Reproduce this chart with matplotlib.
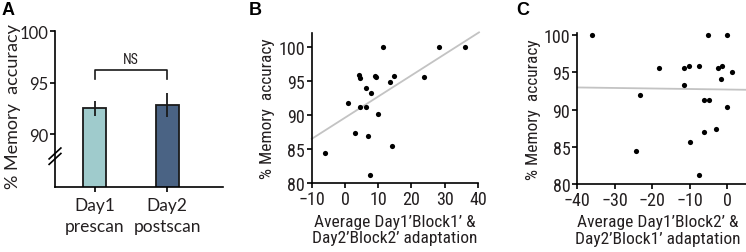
import matplotlib
matplotlib.use("Agg")
import matplotlib.pyplot as plt
from matplotlib import font_manager
import numpy as np

TTF = font_manager.fontManager.ttflist
names = {f.name for f in TTF}
NARROW_KW = None
for cand in ['Liberation Sans Narrow', 'Roboto Condensed', 'Open Sans Condensed']:
    if cand in names:
        NARROW_KW = dict(family=cand)
        break
if NARROW_KW is None:
    if any(f.name == 'DejaVu Sans' and f.stretch in ('condensed', 'semi-condensed')
           for f in TTF):
        NARROW_KW = dict(family='DejaVu Sans', stretch='condensed')
if NARROW_KW is None:
    NARROW_KW = dict(family='Lato')
    FS, FL = 11.5, 11.5
else:
    FS, FL = 13, 12.5

plt.rcParams['font.family'] = ['Lato', 'DejaVu Sans']
TXT = '#231f20'

# Panel A data
bar_labels = ['Day1\nprescan', 'Day2\npostscan']
bar_means = [92.5, 92.85]
bar_err_lo = [0.75, 1.15]
bar_err_hi = [0.75, 1.15]
bar_colors = ['#9fcbcc', '#4a6384']

# Panel B data
b_x = [-6.0, 0.9, 2.9, 4.3, 4.5, 4.5, 6.2, 6.4, 6.9, 7.4, 7.8, 9.1, 9.2, 9.9, 11.3,
       13.5, 14.1, 14.7, 23.9, 28.3, 36.1]
b_y = [84.4, 91.8, 87.3, 95.8, 95.4, 91.2, 91.1, 94.0, 86.9, 81.2, 93.2, 95.7, 95.5,
       90.1, 100.0, 94.9, 85.5, 95.7, 95.5, 100.0, 100.0]
b_fit = (0.31, 89.6)  # slope, intercept

# Panel C data
c_x = [-36.0, -23.4, -24.4, -18.1, -11.6, -10.1, -11.5, -10.0, -7.6, -7.6, -6.1,
       -6.3, -4.9, -5.1, -3.1, -2.4, -1.4, -1.7, 0.0, 0.0, 1.3]
c_y = [100.0, 92.0, 84.5, 95.6, 95.6, 95.8, 93.3, 85.6, 95.8, 81.3, 87.0,
       91.3, 91.3, 100.0, 87.4, 95.5, 95.8, 94.1, 100.0, 90.3, 95.0]
c_fit = (-0.0069, 92.68)

W, H = 746, 253
fig = plt.figure(figsize=(W / 100, H / 100), dpi=100)


def ax_px(l, r, t, b):
    return fig.add_axes([l / W, (H - b) / H, (r - l) / W, (b - t) / H])


def style(ax, fs, kw):
    for s in ['top', 'right']:
        ax.spines[s].set_visible(False)
    for s in ['left', 'bottom']:
        ax.spines[s].set_linewidth(1.2)
        ax.spines[s].set_color('black')
    ax.tick_params(direction='out', length=3.5, width=1.2, labelsize=fs,
                   labelcolor=TXT, pad=1.5)
    for t in ax.get_xticklabels() + ax.get_yticklabels():
        t.set_family(kw['family'])
        if 'stretch' in kw:
            t.set_stretch(kw['stretch'])


# ---- A
axA = ax_px(55, 223, 32, 188)
pos = np.arange(len(bar_means))
axA.bar(pos, bar_means, width=0.32, color=bar_colors, edgecolor='#1a1a1a',
        linewidth=1.3, bottom=0, zorder=2)
axA.errorbar(pos, bar_means, yerr=[bar_err_lo, bar_err_hi], fmt='none',
             ecolor='#1a1a1a', elinewidth=1.3, capsize=0, zorder=3)
axA.set_xlim(-0.55, 1.77)
axA.set_ylim(84.88, 100)
axA.set_yticks([90, 95, 100])
axA.set_xticks(pos)
axA.set_xticklabels(bar_labels, linespacing=1.35)
style(axA, 12, dict(family='Lato'))
axA.tick_params(axis='x', pad=4, labelsize=12.5)
axA.set_ylabel('% Memory  accuracy', fontsize=13, color=TXT)
axA.yaxis.set_label_coords(-0.2, 0.52)
# NS bracket
axA.plot([0, 0, 1, 1], [95.3, 96.25, 96.25, 95.3], color='#1a1a1a', lw=1.2)
axA.text(0.5, 96.6, 'NS', ha='center', va='bottom', fontsize=10,
         color=TXT, **NARROW_KW)
# axis break marks
for dy in [0.0, 0.035]:
    axA.plot([-0.035, 0.035], [0.145 + dy, 0.215 + dy], transform=axA.transAxes,
             color='black', lw=1.2, clip_on=False)

# ---- B
axB = ax_px(311.7, 478, 34, 184.3)
axB.scatter(b_x, b_y, s=14, color='black', zorder=3, linewidths=0, clip_on=False)
xs = np.array([-10, 40.3])
axB.plot(xs, b_fit[0] * xs + b_fit[1], color='#c3c3c3', lw=1.3, zorder=2,
         clip_on=False)
axB.set_xlim(-10, 40)
axB.set_ylim(80, 102)
axB.set_xticks([-10, 0, 10, 20, 30, 40])
axB.set_xticklabels(['\u221210', '0', '10', '20', '30', '40'])
axB.set_yticks([80, 85, 90, 95, 100])
style(axB, FS, NARROW_KW)
axB.set_ylabel('% Memory  accuracy', fontsize=FL, color=TXT, labelpad=2,
               **NARROW_KW)
axB.set_xlabel('Average Day1\u2019Block1\u2019 &\nDay2\u2019Block2\u2019 adaptation',
               fontsize=FL, color=TXT, labelpad=4, linespacing=1.1, **NARROW_KW)

# ---- C
axC = ax_px(577.3, 746, 34.3, 185.3)
axC.scatter(c_x, c_y, s=14, color='black', zorder=3, linewidths=0, clip_on=False)
xs = np.array([-40, 5])
axC.plot(xs, c_fit[0] * xs + c_fit[1], color='#c3c3c3', lw=1.3, zorder=2)
axC.set_xlim(-40, 5)
axC.set_ylim(80, 100.2)
axC.set_xticks([-40, -30, -20, -10, 0])
axC.set_xticklabels(['\u221240', '\u221230', '\u221220', '\u221210', '0'])
axC.set_yticks([80, 85, 90, 95, 100])
style(axC, FS, NARROW_KW)
axC.set_ylabel('% Memory  accuracy', fontsize=FL, color=TXT, labelpad=2,
               **NARROW_KW)
axC.set_xlabel('Average Day1\u2019Block2\u2019 &\nDay2\u2019Block1\u2019 adaptation',
               fontsize=FL, color=TXT, labelpad=4, linespacing=1.1, **NARROW_KW)
axC.xaxis.set_label_coords(0.475, -0.2)
axC.xaxis.label.set_va('top')

# panel letters
for lbl, x in [('A', 2), ('B', 249), ('C', 516)]:
    fig.text(x / W, 1 - 2 / H, lbl, fontsize=13, fontweight='bold',
             ha='left', va='top', color='black', family='Liberation Sans')

fig.savefig('out.png', dpi=100)
